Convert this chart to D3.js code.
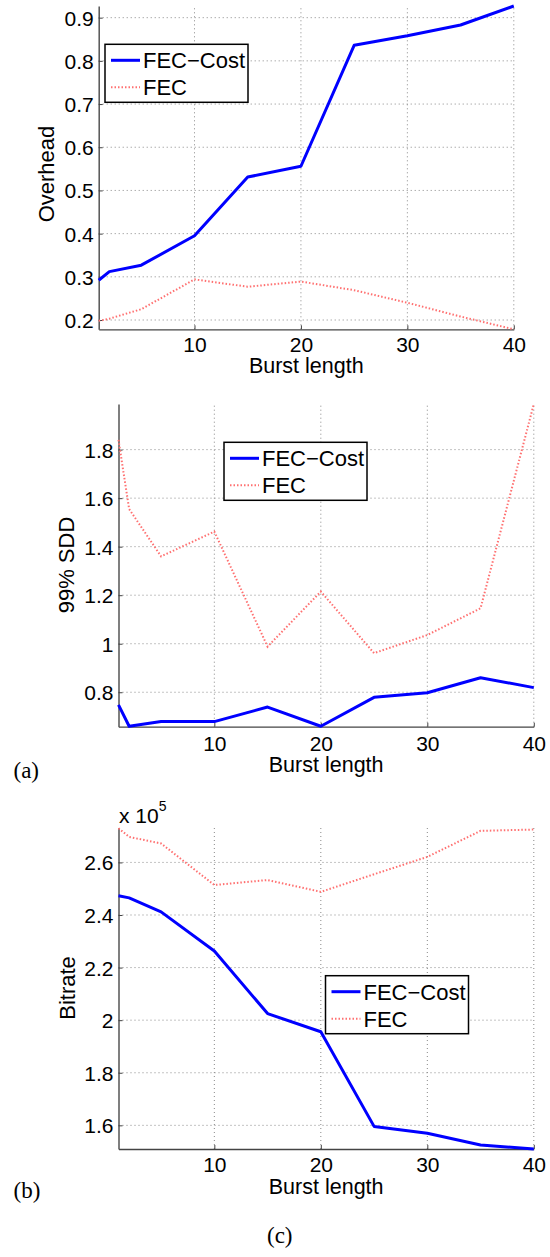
<!DOCTYPE html>
<html>
<head>
<meta charset="utf-8">
<script src="https://cdn.jsdelivr.net/npm/d3@7"></script>
<style>
  html, body { margin: 0; padding: 0; background: #fff; }
  svg { display: block; }
  text { font-family: "Liberation Sans", Arial, Helvetica, sans-serif; fill: #000; }
  .serif { font-family: "Liberation Serif", "Times New Roman", serif; }
</style>
</head>
<body>
<svg id="chart" width="550" height="1257"></svg>
<script>
// ---- data ----
const burstLength = [1, 2, 5, 10, 15, 20, 25, 30, 35, 40];
const seriesNames = ["FEC\u2212Cost", "FEC"];

const overheadFecCost = [0.292, 0.312, 0.327, 0.395, 0.531, 0.556, 0.836, 0.858, 0.883, 0.927];
const overheadFec     = [0.198, 0.203, 0.225, 0.294, 0.277, 0.289, 0.269, 0.240, 0.208, 0.1785];

const sddFecCost = [0.748, 0.66, 0.679, 0.679, 0.739, 0.66, 0.779, 0.798, 0.860, 0.819];
const sddFec     = [1.840, 1.555, 1.360, 1.462, 0.988, 1.215, 0.961, 1.036, 1.146, 1.988];

// bitrate in units of 1e5
const bitrateFecCost = [2.473, 2.465, 2.412, 2.263, 2.025, 1.956, 1.596, 1.570, 1.525, 1.51];
const bitrateFec     = [2.730, 2.697, 2.672, 2.514, 2.533, 2.488, 2.555, 2.621, 2.720, 2.725];

const xTicks = [10, 20, 30, 40];
const overheadTicks = [0.2, 0.3, 0.4, 0.5, 0.6, 0.7, 0.8, 0.9];
const sddTicks = [0.8, 1, 1.2, 1.4, 1.6, 1.8];
const bitrateTicks = [1.6, 1.8, 2, 2.2, 2.4, 2.6];

const svg = d3.select("#chart");

function drawPanel(cfg) {
  const g = svg.append("g");
  const x = d3.scaleLinear().domain([1, 40]).range([cfg.left, cfg.right]);
  const y = d3.scaleLinear().domain(cfg.yDomain).range([cfg.bottom, cfg.top]);

  // grid
  g.selectAll(".gx").data(xTicks).enter().append("line")
    .attr("x1", d => x(d)).attr("x2", d => x(d))
    .attr("y1", cfg.bottom).attr("y2", cfg.top)
    .attr("stroke", "#888").attr("stroke-width", 1).attr("stroke-dasharray", "1,3");
  g.selectAll(".gy").data(cfg.yTicks).enter().append("line")
    .attr("x1", cfg.left).attr("x2", cfg.right)
    .attr("y1", d => y(d)).attr("y2", d => y(d))
    .attr("stroke", "#888").attr("stroke-width", 1).attr("stroke-dasharray", "1,3");

  // axes with inward ticks
  const xAxis = d3.axisBottom(x).tickValues(xTicks).tickSizeInner(-4).tickSizeOuter(0).tickFormat(d => String(d));
  const yAxis = d3.axisLeft(y).tickValues(cfg.yTicks).tickSizeInner(-4).tickSizeOuter(0).tickFormat(d => String(d));

  const ax = g.append("g").attr("transform", `translate(0,${cfg.bottom})`).call(xAxis);
  ax.select(".domain").attr("stroke", "#444").attr("stroke-width", 1.3);
  ax.selectAll(".tick line").attr("stroke", "#444");
  ax.selectAll(".tick text").attr("font-size", 21).attr("font-family", "Liberation Sans, Arial, sans-serif")
    .attr("fill", "#000").attr("y", 0).attr("dy", 0)
    .attr("transform", `translate(0,${cfg.xTickBase - cfg.bottom})`);

  const ay = g.append("g").attr("transform", `translate(${cfg.left},0)`).call(yAxis);
  ay.select(".domain").attr("stroke", "#555").attr("stroke-width", 1.5);
  ay.selectAll(".tick line").attr("stroke", "#444");
  ay.selectAll(".tick text").attr("font-size", 21).attr("font-family", "Liberation Sans, Arial, sans-serif")
    .attr("fill", "#000").attr("x", -5).attr("dy", "0.36em");

  // lines
  const line = d3.line().x((d, i) => x(burstLength[i])).y(d => y(d));
  g.append("path").datum(cfg.fec).attr("d", line)
    .attr("fill", "none").attr("stroke", "#ff7070").attr("stroke-width", 2)
    .attr("stroke-dasharray", "1.5,2");
  g.append("path").datum(cfg.fecCost).attr("d", line)
    .attr("fill", "none").attr("stroke", "#0000ff").attr("stroke-width", 3)
    .attr("stroke-linejoin", "round");

  // x label
  g.append("text").attr("x", (cfg.left + cfg.right) / 2).attr("y", cfg.xLabelBase)
    .attr("text-anchor", "middle").attr("font-size", 21.5).text("Burst length");
  // y label
  g.append("text").attr("transform", `translate(${cfg.yLabelX},${cfg.yLabelY}) rotate(-90)`)
    .attr("text-anchor", "middle").attr("dy", "0.36em").attr("font-size", 22).text(cfg.yLabel);

  // legend
  const lg = g.append("g").attr("transform", `translate(${cfg.legX},${cfg.legY})`);
  lg.append("rect").attr("x", 0).attr("y", 0).attr("width", 143).attr("height", 58)
    .attr("fill", "#fff").attr("stroke", "#000").attr("stroke-width", 1.5);
  lg.append("line").attr("x1", 6).attr("x2", 35).attr("y1", 16).attr("y2", 16)
    .attr("stroke", "#0000ff").attr("stroke-width", 3);
  lg.append("text").attr("x", 38).attr("y", 24).attr("font-size", 22).text(seriesNames[0]);
  lg.append("line").attr("x1", 6).attr("x2", 35).attr("y1", 43).attr("y2", 43)
    .attr("stroke", "#ff7070").attr("stroke-width", 2).attr("stroke-dasharray", "1.5,2");
  lg.append("text").attr("x", 38).attr("y", 51).attr("font-size", 22).text(seriesNames[1]);
  return g;
}

drawPanel({
  left: 98.7, right: 513.8, top: 6, bottom: 329.3,
  yDomain: [0.1785, 0.927], yTicks: overheadTicks,
  fecCost: overheadFecCost, fec: overheadFec,
  xTickBase: 352, xLabelBase: 373,
  yLabel: "Overhead", yLabelX: 46.5, yLabelY: 174,
  legX: 105, legY: 44.3
});

drawPanel({
  left: 118.5, right: 533.8, top: 404, bottom: 726.7,
  yDomain: [0.658, 1.988], yTicks: sddTicks,
  fecCost: sddFecCost, fec: sddFec,
  xTickBase: 750.5, xLabelBase: 772,
  yLabel: "99% SDD", yLabelX: 66.5, yLabelY: 565,
  legX: 224, legY: 442.3
});

drawPanel({
  left: 118.5, right: 533.8, top: 827.7, bottom: 1149,
  yDomain: [1.51, 2.732], yTicks: bitrateTicks,
  fecCost: bitrateFecCost, fec: bitrateFec,
  xTickBase: 1171.5, xLabelBase: 1194,
  yLabel: "Bitrate", yLabelX: 67, yLabelY: 988,
  legX: 325.5, legY: 975.7
});

// exponent label
const ex = svg.append("text").attr("x", 119).attr("y", 823).attr("font-size", 21);
ex.append("tspan").text("x 10");
ex.append("tspan").attr("font-size", 14).attr("dy", -12).text("5");

// panel captions
svg.append("text").attr("class", "serif").attr("x", 13.5).attr("y", 778).attr("font-size", 23).text("(a)");
svg.append("text").attr("class", "serif").attr("x", 13.5).attr("y", 1198).attr("font-size", 23).text("(b)");
svg.append("text").attr("class", "serif").attr("x", 267).attr("y", 1243).attr("font-size", 23).text("(c)");
</script>
</body>
</html>
